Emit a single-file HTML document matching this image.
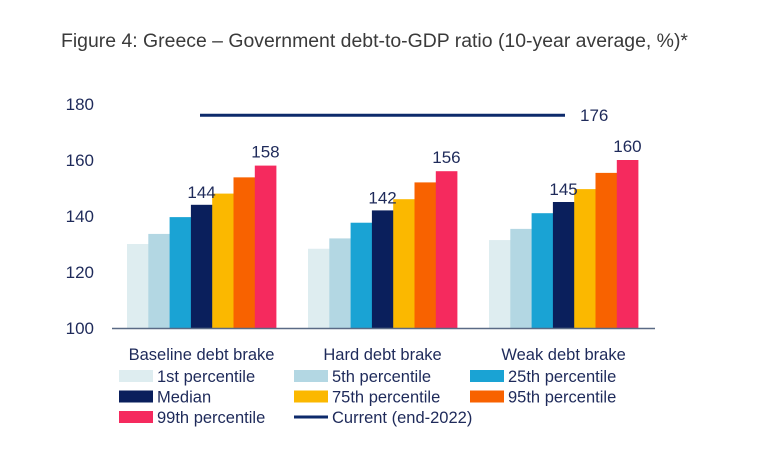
<!DOCTYPE html>
<html><head><meta charset="utf-8"><style>
body{margin:0;background:#fff;}
svg{display:block;font-family:"Liberation Sans",sans-serif;}
</style></head><body>
<svg id="c" width="778" height="468" viewBox="0 0 778 468">
<text x="61" y="47" font-size="19" fill="#3a3a3a" textLength="627" lengthAdjust="spacingAndGlyphs">Figure 4: Greece – Government debt-to-GDP ratio (10-year average, %)*</text>
<g id="plot"></g>
</svg>
<script>
const categories = ["Baseline debt brake","Hard debt brake","Weak debt brake"];
const seriesNames = ["1st percentile","5th percentile","25th percentile","Median","75th percentile","95th percentile","99th percentile"];
const p1 = [130, 128.3, 131.4];
const p5 = [133.6, 132, 135.4];
const p25 = [139.6, 137.6, 141];
const median = [144, 142, 145];
const p75 = [148, 146, 149.6];
const p95 = [153.8, 152, 155.4];
const p99 = [158, 156, 160];
const current = [176];
const yTicks = [100, 120, 140, 160, 180];
const labelMedian = ["144","142","145"];
const label99 = ["158","156","160"];
const currentLabel = ["176"];

const colors = ["#deedf0","#b3d7e3","#1aa3d4","#0a1f5c","#fbb800","#f86200","#f52a5e"];
const series = [p1,p5,p25,median,p75,p95,p99];
const NS = "http://www.w3.org/2000/svg";
const g = document.getElementById('plot');
const y = v => 328 - (v - 100) * 2.8;
const groupX = i => 127 + i * 181;
const barW = 21.3;
const navy = "#1e2a5a";
function mk(tag, attrs, txt){const e=document.createElementNS(NS,tag);for(const k in attrs)e.setAttribute(k,attrs[k]);if(txt!==undefined)e.textContent=txt;g.appendChild(e);return e;}

yTicks.forEach(t=>{
  const e=mk('text',{x:94,y:y(t)+6,'font-size':17,fill:navy,'text-anchor':'end'},t);
  
  
});
categories.forEach((c,i)=>{
  series.forEach((s,j)=>{
    const r=mk('rect',{x:groupX(i)+j*barW,y:y(s[i]),width:barW+0.3,height:328-y(s[i]),fill:colors[j]});
    
    
  });
  const m=mk('text',{x:groupX(i)+3.5*barW,y:y(median[i])-7,'font-size':17,fill:navy,'text-anchor':'middle'},labelMedian[i]);
  
  
  const p=mk('text',{x:groupX(i)+6.5*barW,y:y(p99[i])-8,'font-size':17,fill:navy,'text-anchor':'middle'},label99[i]);
  
  
  const cl=mk('text',{x:groupX(i)+3.5*barW,y:360,'font-size':16.5,fill:navy,'text-anchor':'middle'},c);
  
  
});
const ax=mk('line',{x1:112,x2:655,y1:328.5,y2:328.5,stroke:'#5a6a85','stroke-width':1.5});


const cur=mk('line',{x1:200,x2:565,y1:y(current[0]),y2:y(current[0]),stroke:'#0d2a6b','stroke-width':3});


const ct=mk('text',{x:580,y:y(current[0])+6,'font-size':17,fill:navy},currentLabel[0]);



const legendItems = seriesNames.concat(["Current (end-2022)"]);
const legendColors = colors.concat(["#0d2a6b"]);
legendItems.forEach((n,k)=>{
  const col=k%3,row=Math.floor(k/3);
  const lx=[119,294,470][col], ly=376+row*20.5;
  let sw;
  if(k===7){sw=mk('line',{x1:lx,x2:lx+34,y1:ly,y2:ly,stroke:legendColors[k],'stroke-width':3});}
  else sw=mk('rect',{x:lx,y:ly-6,width:34,height:12,fill:legendColors[k]});
  
  
  const t=mk('text',{x:lx+38,y:ly+6,'font-size':16.5,fill:navy},n);
  
  
});
</script>
</body></html>
